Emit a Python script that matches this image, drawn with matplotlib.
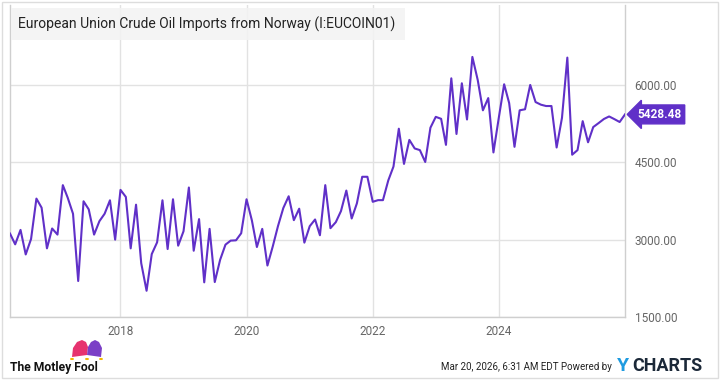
import matplotlib
matplotlib.use("Agg")
import matplotlib.pyplot as plt
import matplotlib.patches as mpatches
import pandas as pd

plt.rcParams['font.family'] = ['Roboto', 'DejaVu Sans']

# monthly crude imports (thousand tonnes), Apr 2016 .. Jan 2026
start_month = "2016-04-01"
imports = [
    3118, 2909, 3189, 2713, 3013, 3796, 3620, 2831, 3216, 3098,
    4057, 3815, 3502, 2198, 3744, 3587, 3098, 3359, 3502, 3763,
    3000, 3965, 3828, 2831, 3678, 2544, 2009, 2720, 2948, 3763,
    2818, 3783, 2883, 3163, 4011, 2785, 3398, 2172, 3209, 2178,
    2609, 2903, 2981, 2987, 3124, 3783, 3372, 2857, 3209, 2498,
    2870, 3261, 3613, 3841, 3378, 3600, 2942, 3261, 3391, 3085,
    4057, 3222, 3339, 3554, 3952, 3410, 3702, 4219, 4219, 3734,
    3766, 3766, 4149, 4417, 5151, 4468, 4934, 4768, 4736, 4506,
    5170, 5381, 5343, 4838, 6128, 5049, 6032, 5330, 6543, 6096,
    5508, 5745, 4691, 5362, 6013, 5649, 4800, 5508, 5528, 6000,
    5668, 5617, 5591, 5591, 4787, 5362, 6530, 4647, 4736, 5298,
    4888, 5183, 5260, 5340, 5389, 5336, 5281, 5428.48,
]
dates = pd.date_range(start_month, periods=len(imports), freq="MS")
year_ticks = ["2018", "2020", "2022", "2024"]
y_ticks = [1500, 3000, 4500, 6000]

line_color = "#6030c8"
grid_color = "#e2e2e2"
label_color = "#666666"

fig = plt.figure(figsize=(7.2, 3.8), dpi=100)
ax = fig.add_axes([10 / 720, 63 / 380, 615 / 720, 312 / 380])

ax.plot(dates, imports, color=line_color, linewidth=1.5, zorder=3)

ax.set_xlim(dates[0], dates[-1])
ax.set_ylim(1500, 7550)

ax.set_xticks(pd.to_datetime([y + "-01-01" for y in year_ticks]))
ax.set_xticklabels(year_ticks)
ax.set_yticks(y_ticks)
ax.set_yticklabels([f"{v:.2f}" for v in y_ticks])
ax.yaxis.tick_right()
ax.tick_params(length=0, labelsize=8.5, colors=label_color)
ax.tick_params(axis="y", pad=7)
ax.tick_params(axis="x", pad=6)
ax.grid(True, color=grid_color, linewidth=1)
ax.set_axisbelow(True)

ax.spines["top"].set_visible(False)
for side in ["left", "right", "bottom"]:
    ax.spines[side].set_color("#cfcfcf")
    ax.spines[side].set_linewidth(1)

# last value flag
last = imports[-1]
ax.annotate(f"{last:.2f}", xy=(dates[-1], last), xycoords="data",
            xytext=(9, 0), textcoords="offset points",
            ha="left", va="center", color="white", fontsize=8.5, fontweight="bold",
            bbox=dict(boxstyle="larrow,pad=0.25", fc=line_color, ec=line_color),
            annotation_clip=False, zorder=5)

# title box
fig.text(18 / 720, 1 - 24 / 380, "European Union Crude Oil Imports from Norway (I:EUCOIN01)",
         fontsize=10, color="#222222", va="center", ha="left")
fig.patches.append(mpatches.Rectangle((11 / 720, 1 - 40 / 380), 394 / 720, 32 / 380,
                                      transform=fig.transFigure, fc="#f3f3f3", ec="none",
                                      alpha=0.85, zorder=1))

# outer frame
fig.patches.append(mpatches.Rectangle((2 / 720, 2 / 380), 716 / 720, 376 / 380,
                                      transform=fig.transFigure, fill=False,
                                      ec="#dddddd", lw=1))


def px(x, y):
    return (x / 720, 1 - y / 380)


# Motley Fool logo (jester hat + wordmark)
pink = [px(72, 357), px(73, 348), px(77, 342), px(82, 340), px(86, 342), px(88, 347), px(87, 355)]
purple = [px(87, 355), px(88, 347), px(91, 342), px(95, 340), px(99, 342), px(102, 348), px(101, 357)]
fig.patches.append(mpatches.Polygon(pink, transform=fig.transFigure, fc="#e6336f", ec="none"))
fig.patches.append(mpatches.Polygon(purple, transform=fig.transFigure, fc="#7b3fc6", ec="none"))
for dx in (72, 87, 101):
    fig.patches.append(mpatches.Circle(px(dx, 359), 0.0028,
                                       transform=fig.transFigure, fc="#f2b705", ec="none"))
fig.text(10 / 720, 1 - 367 / 380, "The Motley Fool", fontsize=8.7, fontweight="bold",
         color="#111111", va="center", ha="left")

# footer
fig.text(612 / 720, 1 - 367 / 380, "Mar 20, 2026, 6:31 AM EDT Powered by", fontsize=7.0,
         color="#222222", va="center", ha="right")
fig.text(617 / 720, 1 - 366 / 380, "Y", fontsize=14, fontweight="bold",
         color="#1e9be0", va="center", ha="left")
fig.text(632 / 720, 1 - 366 / 380, "CHARTS", fontsize=13, fontweight="bold",
         color="#1b2838", va="center", ha="left")

fig.savefig("out.png", dpi=100)
